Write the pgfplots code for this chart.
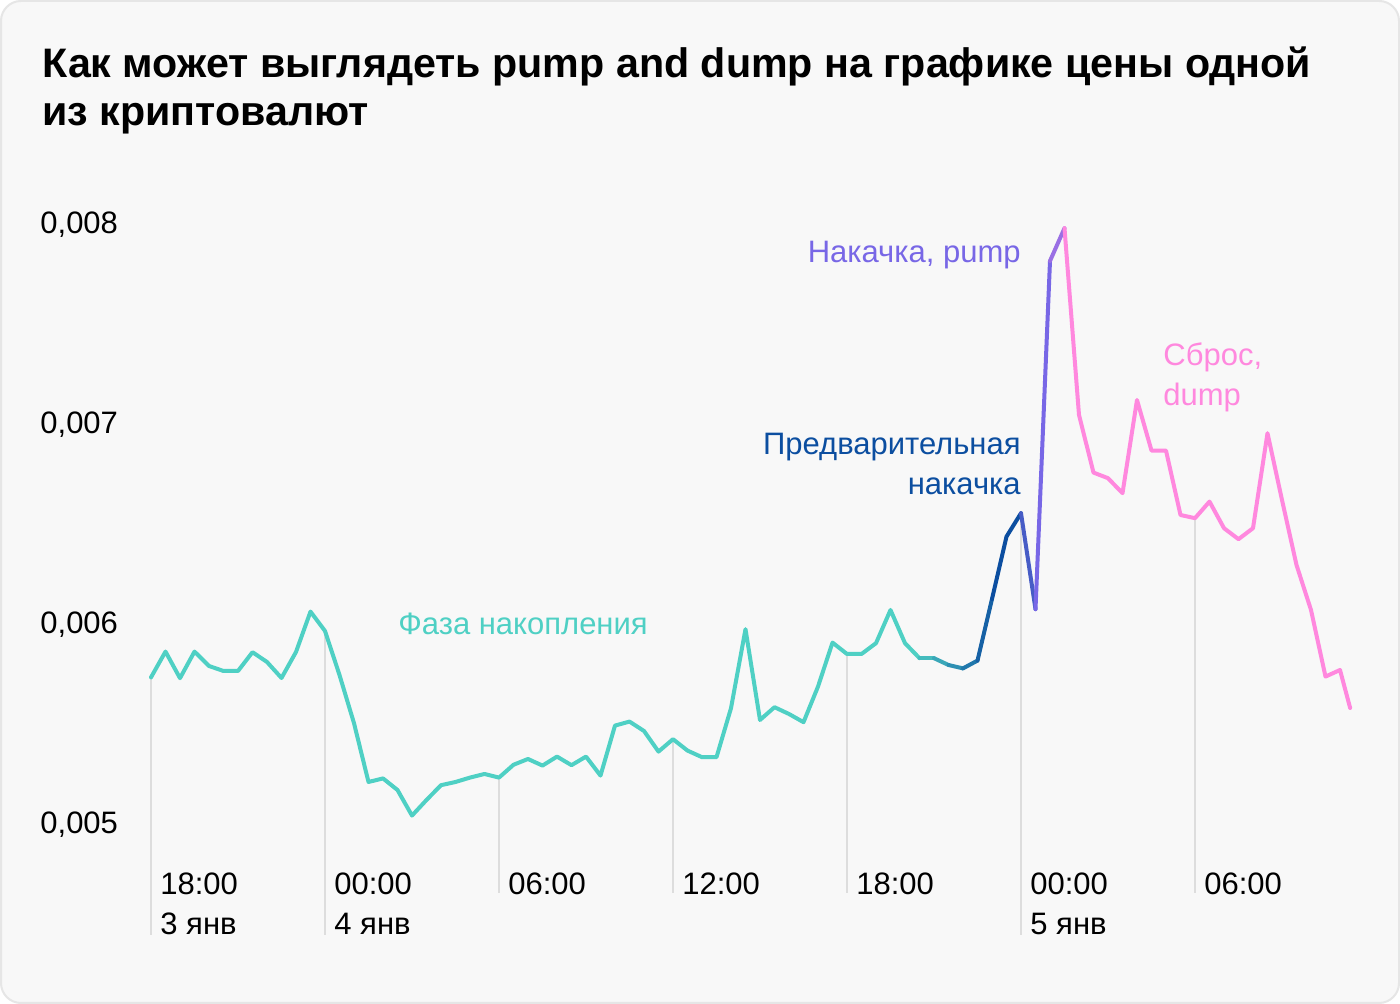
\documentclass[border=0pt]{standalone}
\usepackage{fontspec}
\setmainfont{Liberation Sans}
\usepackage{pgfplots}
\usepackage{pgfplotstable}
\pgfplotsset{compat=1.18}
\definecolor{teal1}{HTML}{4FD0C4}
\definecolor{blue1}{HTML}{0C4EA0}
\definecolor{purp1}{HTML}{7867E6}
\definecolor{pink1}{HTML}{FF88DE}
\definecolor{bg}{HTML}{F8F8F8}
\definecolor{bd}{HTML}{E6E6E6}
\definecolor{grid1}{HTML}{DDDDDD}

\pgfplotstableread{
x y
0 0.005723
1 0.005852
2 0.005719
3 0.005852
4 0.005780
5 0.005755
6 0.005755
7 0.005849
8 0.005800
9 0.005720
10 0.005850
11 0.006052
12 0.005955
13 0.005735
14 0.005494
15 0.005200
16 0.005218
17 0.005160
18 0.005032
19 0.005110
20 0.005184
21 0.005200
22 0.005222
23 0.005240
24 0.005222
25 0.005286
26 0.005315
27 0.005282
28 0.005327
29 0.005284
30 0.005327
31 0.005232
32 0.005482
33 0.005502
34 0.005455
35 0.005352
36 0.005414
37 0.005357
38 0.005324
39 0.005324
40 0.005569
41 0.005964
42 0.005510
43 0.005574
44 0.005540
45 0.005499
46 0.005677
47 0.005897
48 0.005840
49 0.005840
50 0.005894
51 0.006060
52 0.005894
53 0.005819
54 0.005819
55 0.005785
56 0.005768
57 0.005807
58 0.006115
59 0.006427
60 0.006544
61 0.006064
62 0.007805
63 0.007969
64 0.007035
65 0.006747
66 0.006719
67 0.006644
68 0.007110
69 0.006857
70 0.006857
71 0.006535
72 0.006519
73 0.006602
74 0.006469
75 0.006414
76 0.006469
77 0.006944
78 0.006610
79 0.006285
80 0.006060
81 0.005727
82 0.005760
82.7 0.005570
}\pricedata

\begin{document}
\begin{tikzpicture}[x=1pt,y=1pt]
\path[use as bounding box] (0,0) rectangle (700,502);
\fill[white] (0,0) rectangle (700,502);
\draw[bd, fill=bg, line width=1pt, rounded corners=10pt] (0.5,0.5) rectangle (699.5,501.5);
\node[anchor=base west, inner sep=0pt, font=\fontsize{20.6}{25}\selectfont\bfseries] at (21,463) {Как может выглядеть pump and dump на графике цены одной};
\node[anchor=base west, inner sep=0pt, font=\fontsize{20.6}{25}\selectfont\bfseries] at (21,439) {из криптовалют};
\begin{axis}[
  at={(75.5pt,91pt)}, anchor=south west,
  scale only axis, width=601.75pt, height=300pt,
  xmin=0, xmax=83, ymin=0.005, ymax=0.008,
  clip=false,
  axis line style={draw=none},
  major tick length=0pt,
  scaled y ticks=false,
  ytick={0.005,0.006,0.007,0.008},
  yticklabels={{0,005},{0,006},{0,007},{0,008}},
  yticklabel style={anchor=west, inner sep=0pt, xshift=-55.5pt, yshift=-1.5pt, font=\fontsize{15.5}{19}\selectfont},
  xtick={0,12,24,36,48,60,72},
  xticklabels={{18:00\\3 янв},{00:00\\4 янв},{06:00},{12:00},{18:00},{00:00\\5 янв},{06:00}},
  xticklabel style={anchor=north west, align=left, inner sep=0pt, xshift=4.5pt, yshift=-25pt, font=\fontsize{15.5}{20}\selectfont},
  every axis plot/.append style={line join=round, line cap=round},
]
% grid drops
\addplot[grid1, line width=1pt, line cap=butt] coordinates {(0,0.004435) (0,0.005723)};
\addplot[grid1, line width=1pt, line cap=butt] coordinates {(12,0.004435) (12,0.005955)};
\addplot[grid1, line width=1pt, line cap=butt] coordinates {(24,0.004645) (24,0.005222)};
\addplot[grid1, line width=1pt, line cap=butt] coordinates {(36,0.004645) (36,0.005414)};
\addplot[grid1, line width=1pt, line cap=butt] coordinates {(48,0.004645) (48,0.005840)};
\addplot[grid1, line width=1pt, line cap=butt] coordinates {(60,0.004435) (60,0.006544)};
\addplot[grid1, line width=1pt, line cap=butt] coordinates {(72,0.004645) (72,0.006519)};
% price line segments
\addplot[teal1, line width=2pt] table[restrict x to domain=0:53]{\pricedata};
\addplot[teal1!85!blue1, line width=2pt] table[restrict x to domain=53:54]{\pricedata};
\addplot[teal1!68!blue1, line width=2pt] table[restrict x to domain=54:55]{\pricedata};
\addplot[teal1!50!blue1, line width=2pt] table[restrict x to domain=55:56]{\pricedata};
\addplot[teal1!32!blue1, line width=2pt] table[restrict x to domain=56:57]{\pricedata};
\addplot[teal1!15!blue1, line width=2pt] table[restrict x to domain=57:58]{\pricedata};
\addplot[blue1, line width=2pt] table[restrict x to domain=58:60]{\pricedata};
\addplot[blue1!45!purp1, line width=2pt] table[restrict x to domain=60:61]{\pricedata};
\addplot[purp1, line width=2pt] table[restrict x to domain=61:62]{\pricedata};
\addplot[purp1!75!pink1, line width=2pt] table[restrict x to domain=62:63]{\pricedata};
\addplot[pink1, line width=2pt] table[restrict x to domain=63:83]{\pricedata};
\end{axis}
% annotations
\node[anchor=base west, inner sep=0pt, text=teal1, font=\fontsize{15.5}{20}\selectfont] at (199,184.5) {Фаза накопления};
\node[anchor=base east, inner sep=0pt, text=purp1, font=\fontsize{15.5}{20}\selectfont] at (510.5,370.75) {Накачка, pump};
\node[anchor=base east, inner sep=0pt, text=blue1, font=\fontsize{15.5}{20}\selectfont] at (510.5,274.5) {Предварительная};
\node[anchor=base east, inner sep=0pt, text=blue1, font=\fontsize{15.5}{20}\selectfont] at (510.5,254.5) {накачка};
\node[anchor=base west, inner sep=0pt, text=pink1, font=\fontsize{15.5}{20}\selectfont] at (581.5,319) {Сброс,};
\node[anchor=base west, inner sep=0pt, text=pink1, font=\fontsize{15.5}{20}\selectfont] at (581.5,299) {dump};
\end{tikzpicture}
\end{document}
